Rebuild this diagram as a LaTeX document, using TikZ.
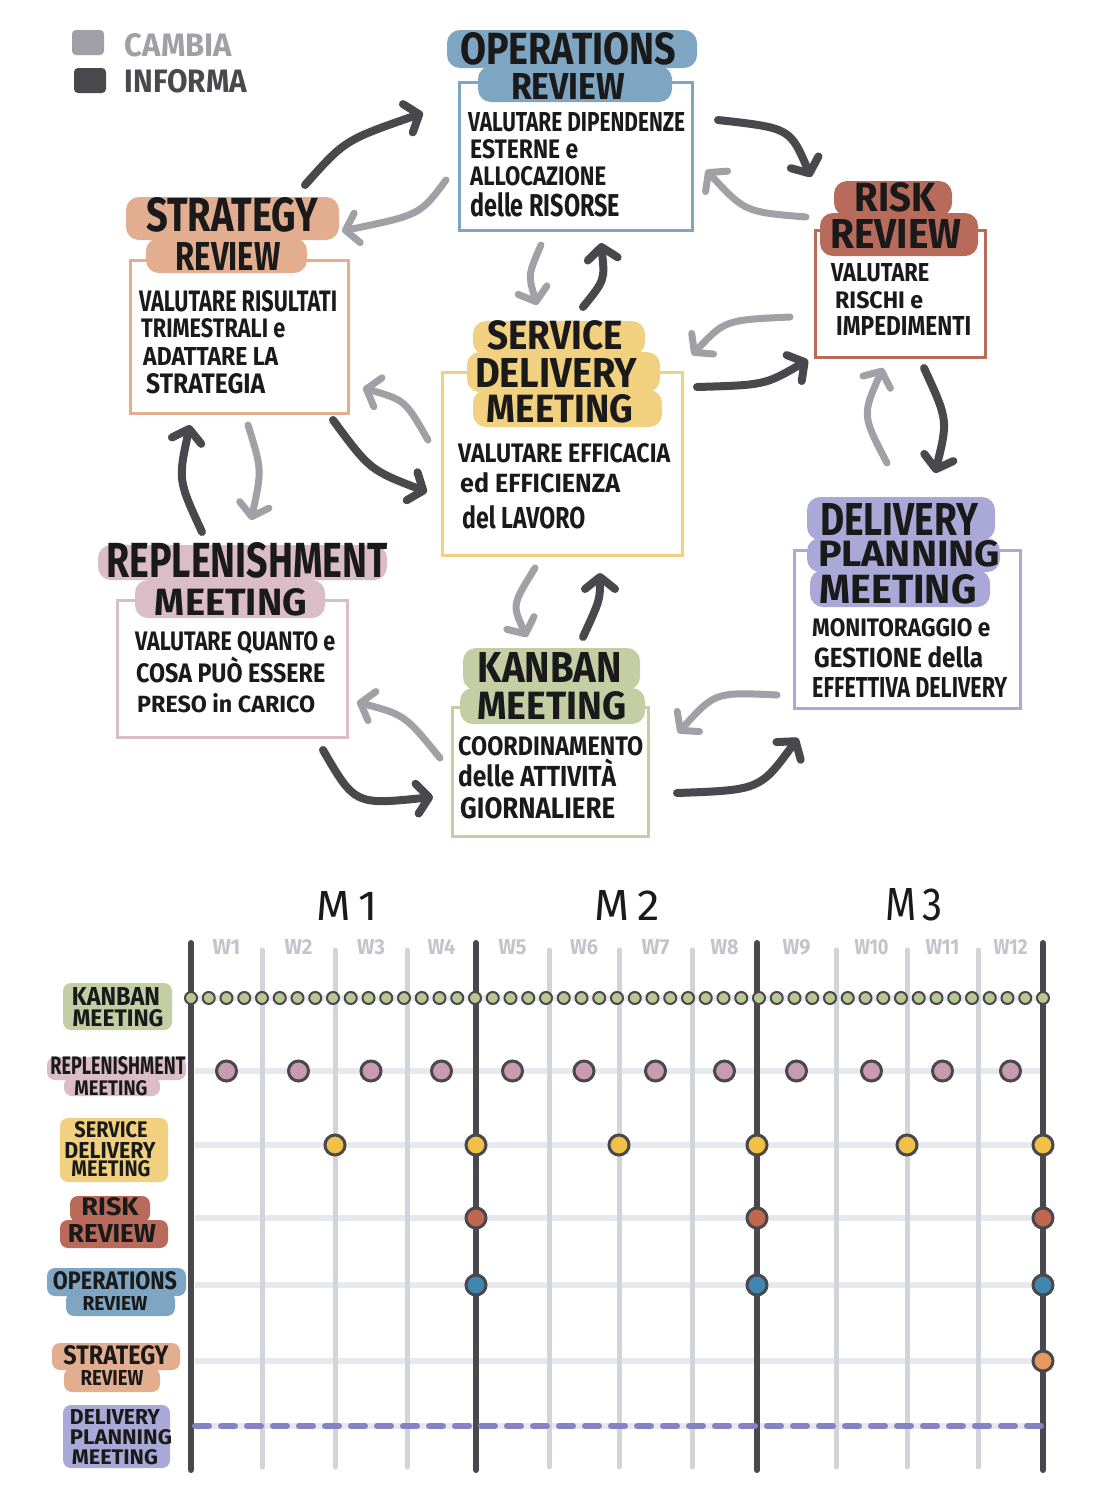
\documentclass[tikz,border=0pt]{standalone}
\usepackage{fontspec}
\setmainfont{Fira Sans}
\usepackage{graphicx}
\usetikzlibrary{arrows.meta}

\definecolor{ink}{HTML}{1A1A1A}
\definecolor{informa}{HTML}{48484D}
\definecolor{cambia}{HTML}{A0A0A6}
\definecolor{opsc}{HTML}{7EA6C2}
\definecolor{strc}{HTML}{E3AE8F}
\definecolor{rskc}{HTML}{B86A5B}
\definecolor{svcc}{HTML}{F1D17F}
\definecolor{repc}{HTML}{DBBDC8}
\definecolor{kanc}{HTML}{C3CEA4}
\definecolor{delc}{HTML}{A9A8D6}
\definecolor{gridl}{HTML}{D3D3DA}
\definecolor{rowl}{HTML}{E8E8EF}
\definecolor{weekc}{HTML}{C4C4CC}
\definecolor{kdot}{HTML}{B9C792}
\definecolor{rdot}{HTML}{C99BB0}
\definecolor{sdot}{HTML}{F0C144}
\definecolor{kdotr}{HTML}{C2674F}
\definecolor{odot}{HTML}{3F86B0}
\definecolor{stdot}{HTML}{E69A5C}
\definecolor{dash}{HTML}{8583C6}

\newcommand{\hwt}[3]{\resizebox{#1pt}{#2pt}{\bfseries #3}}
\newcommand{\hwr}[3]{\resizebox{#1pt}{#2pt}{#3}}

\tikzset{
  box/.style={draw=#1, line width=3pt, inner sep=0pt},
  brush/.style={fill=#1, rounded corners=13pt},
  sbrush/.style={fill=#1, rounded corners=8pt},
  txt/.style={inner sep=0pt, text=ink},
  bodyl/.style={inner sep=0pt, text=ink, anchor=west},
  inf/.style={draw=informa, line width=8pt, line cap=round,
    -{Straight Barb[length=12pt,width=30pt,round]}},
  cam/.style={draw=cambia, line width=7pt, line cap=round,
    -{Straight Barb[length=12pt,width=30pt,round]}},
  dotk/.style={fill=kdot, draw=informa, line width=2pt},
  dotb/.style={draw=informa, line width=3pt},
  thin/.style={draw=gridl, line width=5pt, line cap=round},
  thick/.style={draw=informa, line width=6pt, line cap=round},
  rowline/.style={draw=rowl, line width=6pt},
}

\begin{document}
\begin{tikzpicture}[x=1pt,y=-1pt]
\useasboundingbox (0,0) rectangle (1100,1500);
\fill[white] (0,0) rectangle (1100,1500);

% ---------- legend ----------
\node[fill=cambia, rounded corners=4pt, minimum width=32pt, minimum height=25pt, inner sep=0pt] (sqcam) at (88,42.5) {};
\node[inner sep=0pt, text=cambia] (lcam) at (178.5,45) {\hwt{107}{23}{CAMBIA}};
\node[fill=informa, rounded corners=4pt, minimum width=32pt, minimum height=25pt, inner sep=0pt] (sqinf) at (90,80.5) {};
\node[inner sep=0pt, text=informa] (linf) at (186,81) {\hwt{122}{23}{INFORMA}};

% ---------- boxes ----------
\node[box=opsc, minimum width=233pt, minimum height=148pt] (ops) at (575.5,156) {};
\node[box=strc, minimum width=218pt, minimum height=153pt] (str) at (239,336.5) {};
\node[box=rskc, minimum width=170pt, minimum height=127pt] (rsk) at (900,293.5) {};
\node[box=svcc, minimum width=240pt, minimum height=183pt] (svc) at (562,463.5) {};
\node[box=repc, minimum width=230pt, minimum height=137pt] (rep) at (232,668.5) {};
\node[box=kanc, minimum width=196pt, minimum height=129pt] (kan) at (550,771.5) {};
\node[box=delc, minimum width=226pt, minimum height=158pt] (del) at (907,629) {};

% ---------- brushes ----------
\fill[brush=opsc] (447,30) rectangle (697,68);
\fill[brush=opsc] (478,66) rectangle (672,102);
\fill[brush=strc] (126,197) rectangle (339,240);
\fill[brush=strc] (146,238) rectangle (307,273);
\fill[brush=rskc] (834,181) rectangle (952,216);
\fill[brush=rskc] (820,213) rectangle (978,256);
\fill[brush=svcc] (473,321) rectangle (645,355);
\fill[brush=svcc] (467,352) rectangle (660,392);
\fill[brush=svcc] (473,390) rectangle (662,427);
\fill[brush=repc] (98,545) rectangle (387,580);
\fill[brush=repc] (135,580) rectangle (325,618);
\fill[brush=kanc] (463,648) rectangle (640,690);
\fill[brush=kanc] (460,688) rectangle (645,724);
\fill[brush=delc] (807,497) rectangle (995,540);
\fill[brush=delc] (807,538) rectangle (1000,572);
\fill[brush=delc] (810,570) rectangle (990,607);

% ---------- titles ----------
\node[txt] (opst1) at (568,49) {\hwt{216}{32}{OPERATIONS}};
\node[txt] (opst2) at (568,86) {\hwt{114}{26}{REVIEW}};
\node[txt] (strt1) at (232,215) {\hwt{172}{34}{STRATEGY}};
\node[txt] (strt2) at (228,256) {\hwt{105}{28}{REVIEW}};
\node[txt] (rskt1) at (895,197) {\hwt{81}{29}{RISK}};
\node[txt] (rskt2) at (896,234) {\hwt{131}{29}{REVIEW}};
\node[txt] (svct1) at (555,335) {\hwt{135}{29}{SERVICE}};
\node[txt] (svct2) at (556,373) {\hwt{162}{29}{DELIVERY}};
\node[txt] (svct3) at (560,409) {\hwt{146}{28}{MEETING}};
\node[txt] (rept1) at (247,560) {\hwt{281}{35}{REPLENISHMENT}};
\node[txt] (rept2) at (231,602) {\hwt{152}{27}{MEETING}};
\node[txt] (kant1) at (550,667) {\hwt{144}{30}{KANBAN}};
\node[txt] (kant2) at (552,706) {\hwt{149}{28}{MEETING}};
\node[txt] (delt1) at (899,519) {\hwt{158}{32}{DELIVERY}};
\node[txt] (delt2) at (909,554) {\hwt{182}{26}{PLANNING}};
\node[txt] (delt3) at (898,589) {\hwt{157}{29}{MEETING}};

% ---------- body texts ----------
\node[bodyl] (opsb1) at (468,122) {\hwt{217}{19}{VALUTARE DIPENDENZE}};
\node[bodyl] (opsb2) at (470,149) {\hwt{108}{19}{ESTERNE e}};
\node[bodyl] (opsb3) at (470,176) {\hwt{136}{19}{ALLOCAZIONE}};
\node[bodyl] (opsb4) at (470,205) {\hwt{150}{24}{delle RISORSE}};

\node[bodyl] (strb1) at (139,301) {\hwt{198}{21}{VALUTARE RISULTATI}};
\node[bodyl] (strb2) at (141,328) {\hwt{144}{19}{TRIMESTRALI e}};
\node[bodyl] (strb3) at (143,356) {\hwt{135}{18}{ADATTARE LA}};
\node[bodyl] (strb4) at (146,384) {\hwt{119}{20}{STRATEGIA}};

\node[bodyl] (rskb1) at (831,273) {\hwt{98}{18}{VALUTARE}};
\node[bodyl] (rskb2) at (835,300) {\hwt{88}{17}{RISCHI e}};
\node[bodyl] (rskb3) at (836,326) {\hwt{135}{19}{IMPEDIMENTI}};

\node[bodyl] (svcb1) at (458,453) {\hwt{212}{19}{VALUTARE EFFICACIA}};
\node[bodyl] (svcb2) at (460,483) {\hwt{160}{20}{ed EFFICIENZA}};
\node[bodyl] (svcb3) at (462,517) {\hwt{123}{23}{del LAVORO}};

\node[bodyl] (repb1) at (135,643) {\hwt{200}{19}{VALUTARE QUANTO e}};
\node[bodyl] (repb2) at (136,673) {\hwt{189}{19}{COSA PU\smash{Ò} ESSERE}};
\node[bodyl] (repb3) at (137,703) {\hwt{178}{19}{PRESO in CARICO}};

\node[bodyl] (kanb1) at (458,746) {\hwt{185}{19}{COORDINAMENTO}};
\node[bodyl] (kanb2) at (458,776) {\hwt{158}{22}{delle ATTIVIT\smash{À}}};
\node[bodyl] (kanb3) at (460,808) {\hwt{155}{21}{GIORNALIERE}};

\node[bodyl] (delb1) at (812,628) {\hwt{178}{18}{MONITORAGGIO e}};
\node[bodyl] (delb2) at (814,657) {\hwt{169}{21}{GESTIONE della}};
\node[bodyl] (delb3) at (812,687) {\hwt{195}{20}{EFFETTIVA DELIVERY}};

% ---------- arrows ----------
\coordinate (a1s) at (305,185); \coordinate (a1e) at (423,113);
\coordinate (a2s) at (446,180); \coordinate (a2e) at (342,231);
\coordinate (a3s) at (718,120); \coordinate (a3e) at (811,177);
\coordinate (a4s) at (806,217); \coordinate (a4e) at (706,170);
\coordinate (a5s) at (541,245); \coordinate (a5e) at (537,305);
\coordinate (a6s) at (583,307); \coordinate (a6e) at (601,243);
\coordinate (a7s) at (790,317); \coordinate (a7e) at (692,355);
\coordinate (a8s) at (697,387); \coordinate (a8e) at (808,360);
\coordinate (a9s) at (428,440); \coordinate (a9e) at (363,388);
\coordinate (a10s) at (333,420); \coordinate (a10e) at (427,492);
\coordinate (a11s) at (202,532); \coordinate (a11e) at (190,425);
\coordinate (a12s) at (248,425); \coordinate (a12e) at (251,520);
\coordinate (a13s) at (535,568); \coordinate (a13e) at (527,637);
\coordinate (a14s) at (583,637); \coordinate (a14e) at (600,573);
\coordinate (a15s) at (440,758); \coordinate (a15e) at (357,702);
\coordinate (a16s) at (323,750); \coordinate (a16e) at (433,797);
\coordinate (a17s) at (777,695); \coordinate (a17e) at (678,733);
\coordinate (a18s) at (677,793); \coordinate (a18e) at (798,738);
\coordinate (a19s) at (887,463); \coordinate (a19e) at (883,368);
\coordinate (a20s) at (924,368); \coordinate (a20e) at (935,473);

\draw[inf] (a1s) .. controls (345,140) .. (a1e);
\draw[cam] (a2s) .. controls (420,215) .. (a2e);
\draw[inf] (a3s) .. controls (790,128) .. (a3e);
\draw[cam] (a4s) .. controls (745,212) .. (a4e);
\draw[cam] (a5s) .. controls (528,275) .. (a5e);
\draw[inf] (a6s) .. controls (605,280) .. (a6e);
\draw[cam] (a7s) .. controls (725,320) .. (a7e);
\draw[inf] (a8s) .. controls (765,385) .. (a8e);
\draw[cam] (a9s) .. controls (405,400) .. (a9e);
\draw[inf] (a10s) .. controls (370,470) .. (a10e);
\draw[inf] (a11s) .. controls (178,480) .. (a11e);
\draw[cam] (a12s) .. controls (262,470) .. (a12e);
\draw[cam] (a13s) .. controls (512,605) .. (a13e);
\draw[inf] (a14s) .. controls (600,600) .. (a14e);
\draw[cam] (a15s) .. controls (405,715) .. (a15e);
\draw[inf] (a16s) .. controls (355,805) .. (a16e);
\draw[cam] (a17s) .. controls (715,692) .. (a17e);
\draw[inf] (a18s) .. controls (760,790) .. (a18e);
\draw[cam] (a19s) .. controls (862,415) .. (a19e);
\draw[inf] (a20s) .. controls (948,420) .. (a20e);

% ---------- calendar ----------
\node[txt, text=ink] (m1) at (347,906) {\hwr{61}{29}{M\,1}};
\node[txt, text=ink] (m2) at (627,905) {\hwr{65}{30}{M\,2}};
\node[txt, text=ink] (m3) at (914,905) {\hwr{58}{32}{M\,3}};

\foreach \xa/\xb/\i in {191/262/1,262/335/2,335/407/3,407/476/4,476/549/5,549/619/6,619/692/7,692/757/8,757/836/9,836/907/10,907/978/11,978/1043/12}{
  \pgfmathsetmacro\xm{(\xa+\xb)/2}
  \ifnum\i<10
    \node[inner sep=0pt, text=weekc] (w\i) at (\xm,947) {\hwt{28}{15}{W\i}};
  \else
    \node[inner sep=0pt, text=weekc] (w\i) at (\xm,947) {\hwt{34}{15}{W\i}};
  \fi
}

% row lines
\foreach \y in {998,1071,1145,1218,1285,1361,1426}{
  \draw[rowline] (195,\y) -- (1043,\y);
}
% thin verticals
\foreach \x in {262,335,407,549,619,692,836,907,978}{
  \draw[thin] (\x,950) -- (\x,1467);
}
% thick verticals
\foreach \x in {191,476,757,1043}{
  \draw[thick] (\x,943) -- (\x,1470);
}

% delivery planning dashed
\draw[draw=dash, line width=6pt, line cap=round, dash pattern=on 14pt off 12pt] (195,1426) -- (1043,1426);

% kanban dots
\foreach \i in {0,...,48}{
  \pgfmathsetmacro\xx{191+\i*17.75}
  \filldraw[dotk] (\xx,998) circle[radius=6pt];
}
% replenishment dots
\foreach \x in {226.5,298.5,371,441.5,512.5,584,655.5,724.5,796.5,871.5,942.5,1010.5}{
  \filldraw[dotb, fill=rdot] (\x,1071) circle[radius=10pt];
}
% service delivery dots
\foreach \x in {335,476,619,757,907,1043}{
  \filldraw[dotb, fill=sdot] (\x,1145) circle[radius=10pt];
}
\foreach \x in {476,757,1043}{
  \filldraw[dotb, fill=kdotr] (\x,1218) circle[radius=10pt];
  \filldraw[dotb, fill=odot] (\x,1285) circle[radius=10pt];
}
\filldraw[dotb, fill=stdot] (1043,1361) circle[radius=10pt];

% ---------- row labels ----------
\fill[sbrush=kanc] (63,983) rectangle (172,1030);
\node[txt] (rk1) at (116,996) {\hwt{88}{18}{KANBAN}};
\node[txt] (rk2) at (118,1018) {\hwt{91}{17}{MEETING}};

\fill[sbrush=repc] (47,1057) rectangle (186,1080);
\fill[sbrush=repc] (64,1077) rectangle (160,1096);
\node[txt] (rr1) at (118,1066) {\hwt{135}{18}{REPLENISHMENT}};
\node[txt] (rr2) at (111,1088) {\hwt{73}{15}{MEETING}};

\fill[sbrush=svcc] (60,1118) rectangle (168,1182);
\node[txt] (rs1) at (111,1130) {\hwt{73}{16}{SERVICE}};
\node[txt] (rs2) at (110,1150) {\hwt{91}{16}{DELIVERY}};
\node[txt] (rs3) at (111,1169) {\hwt{79}{16}{MEETING}};

\fill[sbrush=rskc] (70,1196) rectangle (150,1222);
\fill[sbrush=rskc] (60,1220) rectangle (168,1248);
\node[txt] (rx1) at (110,1207) {\hwt{57}{18}{RISK}};
\node[txt] (rx2) at (112,1233) {\hwt{88}{18}{REVIEW}};

\fill[sbrush=opsc] (47,1268) rectangle (186,1296);
\fill[sbrush=opsc] (66,1292) rectangle (175,1316);
\node[txt] (ro1) at (115,1281) {\hwt{124}{18}{OPERATIONS}};
\node[txt] (ro2) at (115,1303) {\hwt{65}{14}{REVIEW}};

\fill[sbrush=strc] (52,1343) rectangle (180,1370);
\fill[sbrush=strc] (64,1368) rectangle (160,1392);
\node[txt] (rt1) at (116,1355) {\hwt{105}{19}{STRATEGY}};
\node[txt] (rt2) at (112,1378) {\hwt{63}{15}{REVIEW}};

\fill[sbrush=delc] (63,1405) rectangle (170,1468);
\node[txt] (rd1) at (115,1417) {\hwt{90}{15}{DELIVERY}};
\node[txt] (rd2) at (121,1437) {\hwt{102}{15}{PLANNING}};
\node[txt] (rd3) at (115,1457) {\hwt{86}{15}{MEETING}};

\end{tikzpicture}
\end{document}
